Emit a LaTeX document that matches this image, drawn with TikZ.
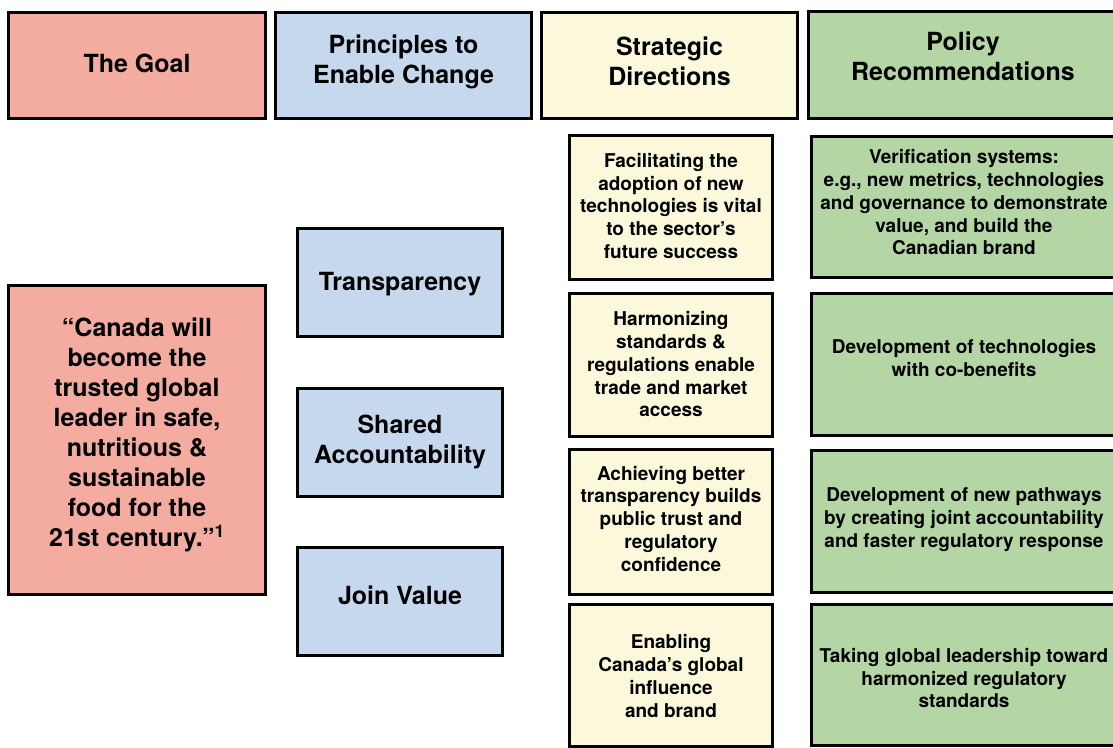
\documentclass[tikz,border=0pt]{standalone}
\usepackage{fontspec}
\setmainfont{TeX Gyre Heros}
\definecolor{goalred}{HTML}{F4ACA0}
\definecolor{princblue}{HTML}{C6D8EE}
\definecolor{stratyellow}{HTML}{FBF8DC}
\definecolor{policygreen}{HTML}{B4D6A4}
\begin{document}
\begin{tikzpicture}[x=1pt,y=-1pt,
	box/.style={draw=black,line width=3pt,fill=#1,inner sep=0pt},
	size/.style 2 args={minimum width=#1,minimum height=#2},
	big/.style={align=center,inner sep=0pt,font=\fontsize{25}{30}\selectfont\bfseries},
	small/.style={align=center,inner sep=0pt,font=\fontsize{19}{22.75}\selectfont\bfseries}]
	\useasboundingbox[fill=white] (0,0) rectangle (1113,747);
	\clip (0,0) rectangle (1113,747);
	\node[box=goalred,size={257pt}{106pt}] (goalhead) at (137,65) {};
	\node[box=princblue,size={256pt}{106pt}] (princhead) at (403.5,65) {};
	\node[box=stratyellow,size={256pt}{106pt}] (strathead) at (669.5,65) {};
	\node[box=policygreen,size={309pt}{107pt}] (policyhead) at (963,64.5) {};
	\node[box=goalred,size={257pt}{309pt}] (goal) at (137,439.5) {};
	\node[box=princblue,size={205pt}{108pt}] (transp) at (400,282) {};
	\node[box=princblue,size={205pt}{108pt}] (shared) at (400,442.5) {};
	\node[box=princblue,size={205pt}{108pt}] (join) at (400,601.5) {};
	\node[box=stratyellow,size={203pt}{144pt}] (stratA) at (671,207) {};
	\node[box=stratyellow,size={203pt}{143pt}] (stratB) at (671,364.5) {};
	\node[box=stratyellow,size={203pt}{145pt}] (stratC) at (671,521.5) {};
	\node[box=stratyellow,size={203pt}{142pt}] (stratD) at (671,675.5) {};
	\node[box=policygreen,size={305pt}{141pt}] (policyA) at (964,206.5) {};
	\node[box=policygreen,size={305pt}{142pt}] (policyB) at (964,364) {};
	\node[box=policygreen,size={305pt}{142pt}] (policyC) at (964,521) {};
	\node[box=policygreen,size={305pt}{141pt}] (policyD) at (964,674.5) {};
	\node[big] (goalheadtext) at (137,63) {The Goal};
	\node[big] (princheadtext) at (403.5,62) {Principles to\\Enable Change};
	\node[big] (strattext) at (669.5,61.5) {Strategic\\Directions};
	\node[big] (policyheadtext) at (963,56) {Policy\\Recommendations};
	\node[big] (goaltext) at (137,434.5) {“Canada will\\become the\\trusted global\\leader in safe,\\nutritious \&\\sustainable\\food for the\\21st century.”\textsuperscript{1}};
	\node[big] (transptext) at (400,284) {Transparency};
	\node[big] (sharedtext) at (400,441.5) {Shared\\Accountability};
	\node[big] (jointext) at (400,595.5) {Join Value};
	\node[small] (stratAtext) at (671,206) {Facilitating the\\adoption of new\\technologies is vital\\to the sector’s\\future success};
	\node[small] (stratBtext) at (671,364.5) {Harmonizing\\standards \&\\regulations enable\\trade and market\\access};
	\node[small] (stratCtext) at (671,518.5) {Achieving better\\transparency builds\\public trust and\\regulatory\\confidence};
	\node[small] (stratDtext) at (671,676) {Enabling\\Canada’s global\\influence\\and brand};
	\node[small] (policyAtext) at (964,202.5) {Verification systems:\\e.g., new metrics, technologies\\and governance to demonstrate\\value, and build the\\Canadian brand};
	\node[small] (policyBtext) at (964,358) {Development of technologies\\with co-benefits};
	\node[small] (policyCtext) at (964,519.5) {Development of new pathways\\by creating joint accountability\\and faster regulatory response};
	\node[small] (policyDtext) at (964,678) {Taking global leadership toward\\harmonized regulatory\\standards};
\end{tikzpicture}
\end{document}
